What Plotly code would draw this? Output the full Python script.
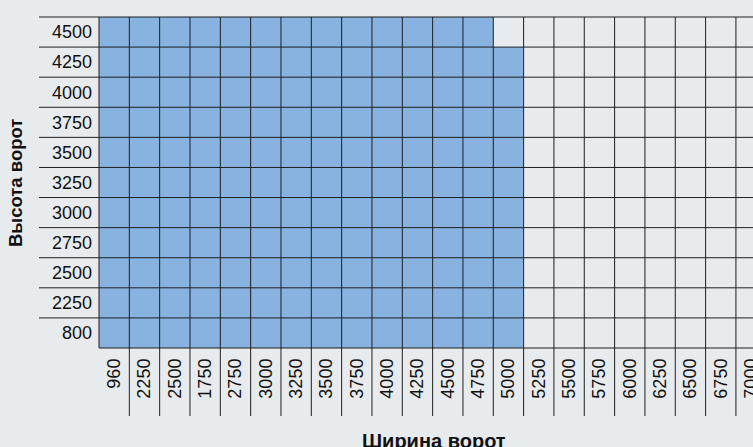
import plotly.graph_objects as go

# ---- data ----
widths = ["960", "2250", "2500", "1750", "2750", "3000", "3250", "3500", "3750", "4000",
          "4250", "4500", "4750", "5000", "5250", "5500", "5750", "6000", "6250", "6500",
          "6750", "7000"]
heights = ["800", "2250", "2500", "2750", "3000", "3250", "3500", "3750", "4000", "4250", "4500"]
# last available width for each height (same order as heights)
max_width = ["5000", "5000", "5000", "5000", "5000", "5000", "5000", "5000", "5000", "5000", "4750"]

x_title = "Ширина ворот"
y_title = "Высота ворот"

# ---- styles ----
BG = "#e8ebee"
BLUE = "#88b3e1"
LINE = "#1e1e1e"
FONT = "Liberation Sans, Arial, Helvetica, sans-serif"

W, H = 753, 447
ML, MT, MB, MR = 99, 17, 99, 0
col_px = 30.33
plot_w = W - ML - MR
plot_h = H - MT - MB
x_lo = -0.5
x_hi = x_lo + plot_w / col_px

z = []
for h, mw in zip(heights, max_width):
    lim = widths.index(mw)
    z.append([1 if i <= lim else None for i in range(len(widths))])

fig = go.Figure(go.Heatmap(
    x=list(range(len(widths))), y=list(range(len(heights))), z=z,
    colorscale=[[0, BLUE], [1, BLUE]], showscale=False, hoverinfo="skip",
))

def px_x(v):
    return (v - x_lo) / (x_hi - x_lo)

ny = len(heights)
def px_y(v):
    return (v + 0.5) / ny

shapes = []
lab_bottom = -(416 - (MT + plot_h)) / plot_h
lab_left = -(ML - 39) / plot_w
# vertical lines
for k in range(len(widths) + 1):
    xp = px_x(k - 0.5)
    if xp > 1.02:
        continue
    y0 = lab_bottom if k >= 1 else 0
    shapes.append(dict(type="line", xref="paper", yref="paper", x0=xp, x1=xp, y0=y0, y1=1,
                       line=dict(color=LINE, width=1)))
# horizontal lines
for k in range(ny + 1):
    yp = px_y(k - 0.5)
    x0 = lab_left if k >= 1 else 0
    shapes.append(dict(type="line", xref="paper", yref="paper", x0=x0, x1=1.0, y0=yp, y1=yp,
                       line=dict(color=LINE, width=1)))

fig.update_layout(
    width=W, height=H,
    margin=dict(l=ML, r=MR, t=MT, b=MB, pad=0),
    paper_bgcolor=BG, plot_bgcolor=BG,
    font=dict(family=FONT, color="#111111", size=18),
    shapes=shapes,
    xaxis=dict(range=[x_lo, x_hi], tickmode="array", tickvals=list(range(len(widths))),
               ticktext=widths, tickangle=-90, ticks="", showgrid=False, zeroline=False,
               showline=False, ticklabelstandoff=6, fixedrange=True, automargin=False,
               ticklabeloverflow="allow"),
    yaxis=dict(range=[-0.5, ny - 0.5], tickmode="array", tickvals=list(range(ny)),
               ticktext=heights, ticks="", showgrid=False, zeroline=False, showline=False,
               ticklabelstandoff=6, fixedrange=True, automargin=False,
               ticklabeloverflow="allow"),
    annotations=[
        dict(text="<b>" + x_title + "</b>", xref="paper", yref="paper",
             x=(434 - ML) / plot_w, y=-(441 - (MT + plot_h)) / plot_h,
             xanchor="center", yanchor="middle", showarrow=False, font=dict(size=20)),
        dict(text="<b>" + y_title + "</b>", xref="paper", yref="paper",
             x=(15 - ML) / plot_w, y=(MT + plot_h - 183) / plot_h,
             xanchor="center", yanchor="middle", textangle=-90, showarrow=False,
             font=dict(size=18.5)),
    ],
)

fig.write_html("out.html", config={"displayModeBar": False},
               post_script="document.body.style.margin='0';document.body.style.overflow='hidden';")
